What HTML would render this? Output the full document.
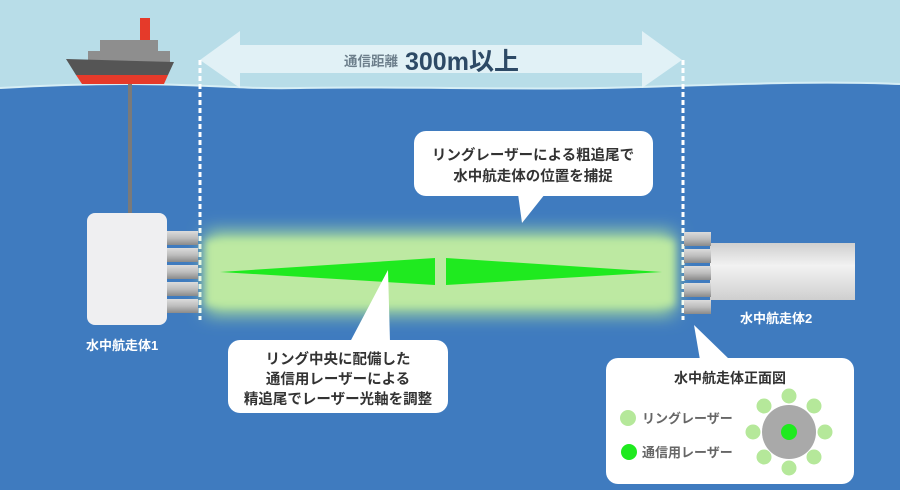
<!DOCTYPE html>
<html><head><meta charset="utf-8"><style>
html,body{margin:0;padding:0;width:900px;height:490px;overflow:hidden;background:#3f7bbf}
svg{display:block}
text{font-family:"Liberation Sans","Noto Sans CJK JP",sans-serif;font-weight:bold}
</style></head><body>
<svg width="900" height="490" viewBox="0 0 900 490" xmlns="http://www.w3.org/2000/svg">
<defs>
<linearGradient id="cyl" x1="0" y1="0" x2="0" y2="1">
<stop offset="0" stop-color="#dcdcdc"/><stop offset="0.5" stop-color="#bdbdbd"/><stop offset="1" stop-color="#8a8a8a"/></linearGradient>
<linearGradient id="body2" x1="0" y1="0" x2="0" y2="1">
<stop offset="0" stop-color="#cfcfcf"/><stop offset="0.4" stop-color="#f2f2f2"/><stop offset="1" stop-color="#cfcfcf"/></linearGradient>
<filter id="blur" x="-10%" y="-50%" width="120%" height="200%"><feGaussianBlur stdDeviation="9"/></filter>
<filter id="blur2" x="-10%" y="-50%" width="120%" height="200%"><feGaussianBlur stdDeviation="4"/></filter>
</defs>
<rect width="900" height="490" fill="#3f7bbf"/>
<path d="M0 0H900V84 C800 80 700 86 600 88 C500 90 400 86 300 88 C220 90 170 78 0 88Z" fill="#b8dde8"/>
<path d="M0 88 C170 78 220 90 300 88 C400 86 500 90 600 88 C700 86 800 80 900 84" fill="none" stroke="#d6eef5" stroke-width="2"/>
<!-- ship -->
<rect x="140" y="18" width="10" height="22" fill="#e53a2a"/>
<rect x="100" y="40" width="58" height="12" fill="#8e8e8e"/>
<rect x="88" y="51" width="82" height="12" fill="#8e8e8e"/>
<path d="M66 59 L174 62 L168 75 L76 75Z" fill="#555"/>
<path d="M76 75 L168 75 L164 84 L82 84Z" fill="#e53a2a"/>
<rect x="128" y="84" width="4" height="130" fill="#7a7a7a"/>
<!-- arrow -->
<path d="M200 60 L240 31 L240 45 L642 45 L642 31 L682 60 L642 88 L642 73 L240 73 L240 88Z" fill="#e8f4f8" opacity="0.85"/>
<text x="398" y="66" font-size="13.5" fill="#6d7f8c" font-weight="normal" text-anchor="end">通信距離</text>
<text x="405" y="70" font-size="25" fill="#2d4a66">300m以上</text>
<!-- dashed lines -->
<line x1="200" y1="60" x2="200" y2="320" stroke="#fff" stroke-width="3" stroke-dasharray="5,3"/>
<line x1="683" y1="60" x2="683" y2="320" stroke="#fff" stroke-width="3" stroke-dasharray="5,3"/>
<!-- glow -->
<rect x="206" y="232" width="468" height="82" fill="#b5e89a" filter="url(#blur)"/>
<rect x="206" y="240" width="468" height="66" fill="#bde9a2" filter="url(#blur2)"/>
<polygon points="220,272 435,258 435,285" fill="#1fea1f"/>
<polygon points="446,258 446,285 662,272" fill="#1fea1f"/>
<!-- vehicle 1 -->
<rect x="87" y="213" width="80" height="112" rx="8" fill="#efeff1"/>
<g fill="url(#cyl)">
<rect x="167" y="231" width="31" height="14"/><rect x="167" y="248" width="31" height="14"/><rect x="167" y="265" width="31" height="14"/><rect x="167" y="282" width="31" height="14"/><rect x="167" y="299" width="31" height="14"/>
</g>
<text x="86" y="350" font-size="13" fill="#fff">水中航走体1</text>
<!-- vehicle 2 -->
<rect x="710" y="243" width="145" height="57" fill="url(#body2)"/>
<g fill="url(#cyl)">
<rect x="684" y="232" width="27" height="14"/><rect x="684" y="249" width="27" height="14"/><rect x="684" y="266" width="27" height="14"/><rect x="684" y="283" width="27" height="14"/><rect x="684" y="300" width="27" height="14"/>
</g>
<text x="740" y="323" font-size="13" fill="#fff">水中航走体2</text>
<!-- bubble top -->
<rect x="414" y="131" width="239" height="65" rx="12" fill="#fff"/>
<polygon points="518,194 545,194 522,223" fill="#fff"/>
<text x="533" y="160" font-size="14.5" fill="#333" text-anchor="middle">リングレーザーによる粗追尾で</text>
<text x="533" y="181" font-size="14.5" fill="#333" text-anchor="middle">水中航走体の位置を捕捉</text>
<!-- bubble bottom left -->
<rect x="228" y="340" width="220" height="73" rx="12" fill="#fff"/>
<polygon points="350,342 390,342 388,270" fill="#fff"/>
<text x="338" y="364" font-size="14.5" fill="#333" text-anchor="middle">リング中央に配備した</text>
<text x="338" y="384" font-size="14.5" fill="#333" text-anchor="middle">通信用レーザーによる</text>
<text x="338" y="404" font-size="14.5" fill="#333" text-anchor="middle">精追尾でレーザー光軸を調整</text>
<!-- bottom right box -->
<rect x="606" y="358" width="248" height="126" rx="12" fill="#fff"/>
<polygon points="694,325 700,360 730,360" fill="#fff"/>
<text x="730" y="383" font-size="14" fill="#333" text-anchor="middle">水中航走体正面図</text>
<circle cx="628" cy="418" r="8" fill="#b5e89a"/>
<circle cx="629" cy="452" r="8" fill="#1fea1f"/>
<text x="642" y="423" font-size="13" fill="#666" font-weight="normal">リングレーザー</text>
<text x="642" y="457" font-size="13" fill="#666" font-weight="normal">通信用レーザー</text>
<g fill="#b5e89a">
<circle cx="789" cy="396" r="7.5"/><circle cx="814" cy="406" r="7.5"/><circle cx="825" cy="432" r="7.5"/><circle cx="814" cy="457" r="7.5"/>
<circle cx="789" cy="468" r="7.5"/><circle cx="764" cy="457" r="7.5"/><circle cx="753" cy="432" r="7.5"/><circle cx="764" cy="406" r="7.5"/>
</g>
<circle cx="789" cy="432" r="27" fill="#a9a9a9"/>
<circle cx="789" cy="432" r="8" fill="#1fea1f"/>
</svg>
</body></html>
